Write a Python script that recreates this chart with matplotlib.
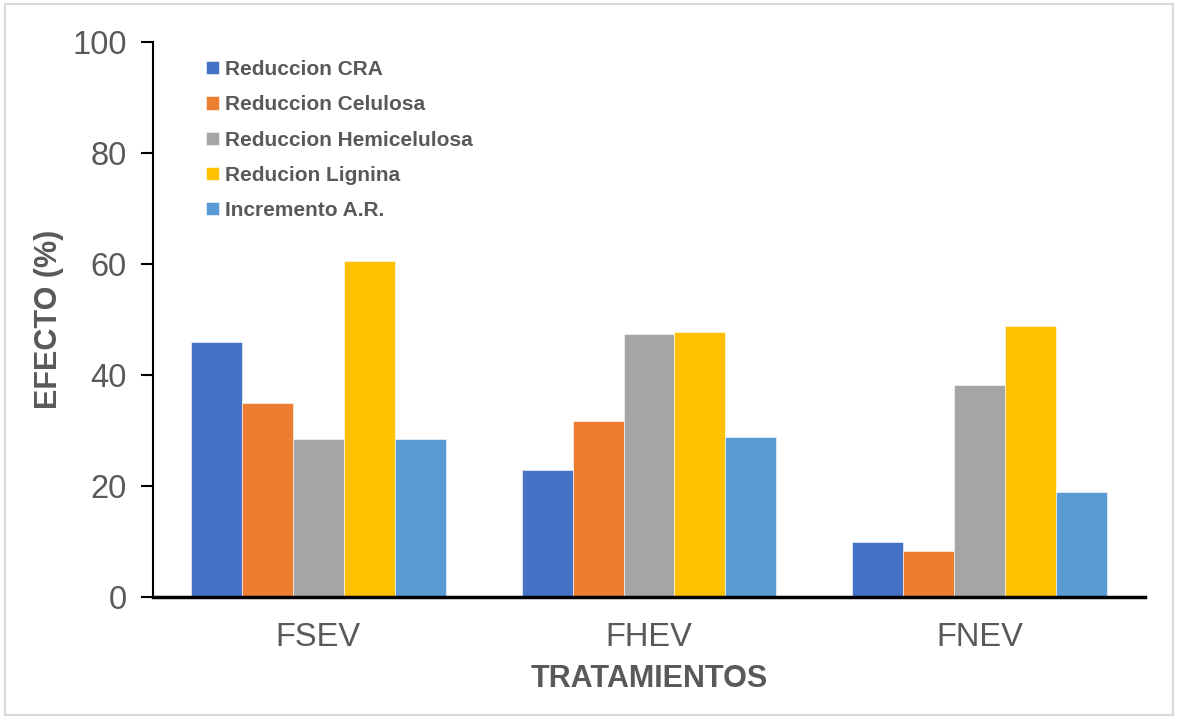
import matplotlib.pyplot as plt
import numpy as np
from matplotlib.patches import Rectangle

plt.rcParams['font.family'] = ['Liberation Sans', 'DejaVu Sans']

tratamientos = ['FSEV', 'FHEV', 'FNEV']
series = ['Reduccion CRA', 'Reduccion Celulosa', 'Reduccion Hemicelulosa',
          'Reducion Lignina', 'Incremento A.R.']
reduccion_cra = [46.0, 22.9, 9.9]
reduccion_celulosa = [35.0, 31.8, 8.3]
reduccion_hemicelulosa = [28.5, 47.5, 38.3]
reducion_lignina = [60.6, 47.8, 48.9]
incremento_ar = [28.5, 28.9, 19.0]
colores = ['#4472C4', '#ED7D31', '#A5A5A5', '#FFC000', '#5B9BD5']

valores = [reduccion_cra, reduccion_celulosa, reduccion_hemicelulosa,
           reducion_lignina, incremento_ar]

gris = '#595959'
fig = plt.figure(figsize=(11.78, 7.19), dpi=100)
ax = fig.add_axes([0.1299, 0.1697, 0.842, 0.7713])

x = np.arange(len(tratamientos))
ancho = 0.154
for i, (nombre, vals, c) in enumerate(zip(series, valores, colores)):
    ax.bar(x + (i - 2) * ancho, vals, ancho, color=c, label=nombre,
           edgecolor='white', linewidth=0.4)

ax.set_xlim(-0.5, 2.5)
ax.set_ylim(0, 100)
ax.set_yticks(range(0, 101, 20))
ax.set_xticks(x)
ax.set_xticklabels(tratamientos)
ax.tick_params(axis='y', labelsize=23.5, labelcolor=gris, length=9, width=1.5,
               color='black', pad=10)
ax.tick_params(axis='x', labelsize=23.5, labelcolor=gris, length=0, pad=18)
for s in ['top', 'right']:
    ax.spines[s].set_visible(False)
ax.spines['left'].set_linewidth(1.5)
ax.spines['bottom'].set_linewidth(2.5)

ax.set_ylabel('EFECTO (%)', fontsize=22, fontweight='bold', color=gris, labelpad=6)
ax.set_xlabel('TRATAMIENTOS', fontsize=22, fontweight='bold', color=gris, labelpad=8)

leg = ax.legend(loc='upper left', bbox_to_anchor=(0.168, 0.928), bbox_transform=fig.transFigure,
                frameon=False, prop={'size': 15, 'weight': 'bold'},
                handlelength=0.6, handleheight=0.6, handletextpad=0.3,
                labelspacing=0.78, borderaxespad=0)
for t in leg.get_texts():
    t.set_color(gris)

# marco gris alrededor de la figura
fig.patches.append(Rectangle((5 / 1178, 4 / 719), 1 - 10 / 1178, 1 - 8 / 719,
                             transform=fig.transFigure, fill=False,
                             edgecolor='#D9D9D9', linewidth=1.5))

fig.savefig('out.png', dpi=100)
